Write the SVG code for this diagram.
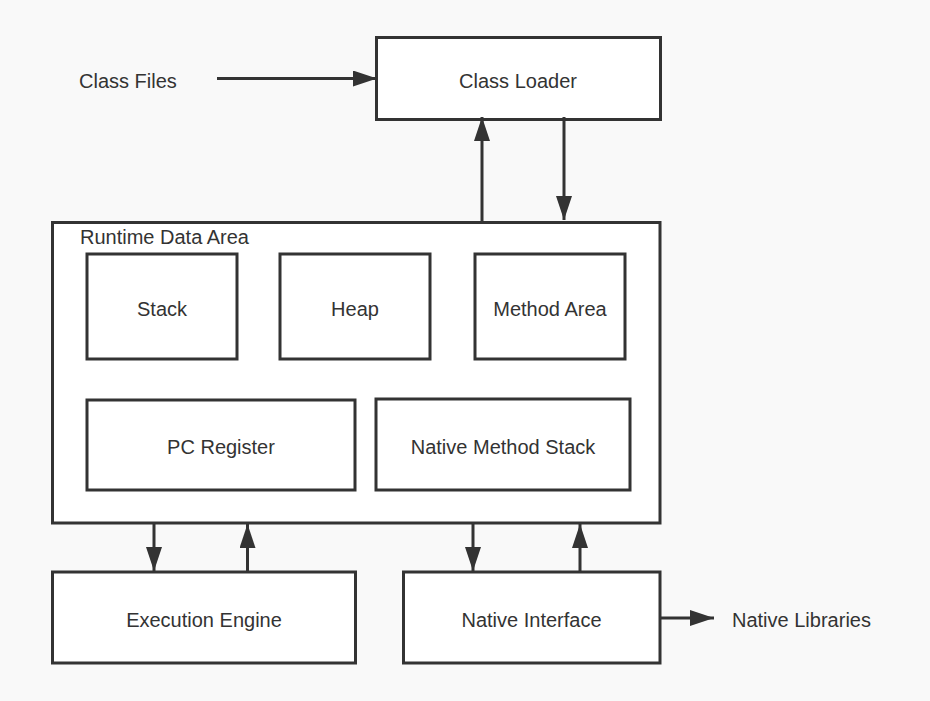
<svg xmlns="http://www.w3.org/2000/svg" width="930" height="701" viewBox="0 0 930 701">
  <style>
    .box { fill: #ffffff; stroke: #333333; stroke-width: 3; }
    .lbl { font-family: "Liberation Sans", Arial, sans-serif; font-size: 20px; fill: #333333; }
    .c { text-anchor: middle; }
    .conn { stroke: #333333; stroke-width: 3; fill: none; marker-end: url(#arrow); }
  </style>
  <defs>
    <marker id="arrow" markerUnits="userSpaceOnUse" markerWidth="24" markerHeight="16" refX="24" refY="8" orient="auto" viewBox="0 0 24 16">
      <path d="M0,0 L24,8 L0,16 Z" fill="#333333"/>
    </marker>
  </defs>
  <rect x="0" y="0" width="930" height="701" fill="#f9f9f9"/>

  <text class="lbl" x="79" y="88">Class Files</text>
  <text class="lbl" x="732" y="627">Native Libraries</text>

  <g id="class-loader">
    <rect class="box" x="376.5" y="37.5" width="284" height="82"/>
    <text class="lbl c" x="518" y="88">Class Loader</text>
  </g>

  <g id="runtime-data-area">
    <rect class="box" x="52.5" y="222.5" width="607.5" height="300.5"/>
    <text class="lbl" x="80" y="244">Runtime Data Area</text>
  </g>

  <g id="stack">
    <rect class="box" x="87" y="254" width="150" height="105"/>
    <text class="lbl c" x="162" y="316">Stack</text>
  </g>

  <g id="heap">
    <rect class="box" x="280" y="254" width="150" height="105"/>
    <text class="lbl c" x="355" y="316">Heap</text>
  </g>

  <g id="method-area">
    <rect class="box" x="475" y="254" width="150" height="105"/>
    <text class="lbl c" x="550" y="316">Method Area</text>
  </g>

  <g id="pc-register">
    <rect class="box" x="87" y="400" width="268" height="90"/>
    <text class="lbl c" x="221" y="454">PC Register</text>
  </g>

  <g id="native-method-stack">
    <rect class="box" x="376" y="399" width="254" height="91"/>
    <text class="lbl c" x="503" y="454">Native Method Stack</text>
  </g>

  <g id="execution-engine">
    <rect class="box" x="52.5" y="572" width="303" height="91"/>
    <text class="lbl c" x="204" y="627">Execution Engine</text>
  </g>

  <g id="native-interface">
    <rect class="box" x="403.5" y="572" width="256.5" height="91"/>
    <text class="lbl c" x="531.5" y="627">Native Interface</text>
  </g>

  <g id="connectors">
    <line class="conn" x1="217" y1="78.5" x2="377" y2="78.5"/>
    <line class="conn" x1="482" y1="222" x2="482" y2="117"/>
    <line class="conn" x1="564" y1="117" x2="564" y2="220"/>
    <line class="conn" x1="154" y1="523" x2="154" y2="571"/>
    <line class="conn" x1="247.5" y1="572" x2="247.5" y2="524"/>
    <line class="conn" x1="473" y1="523" x2="473" y2="571"/>
    <line class="conn" x1="580" y1="572" x2="580" y2="524"/>
    <line class="conn" x1="660" y1="618" x2="714" y2="618"/>
  </g>
</svg>
